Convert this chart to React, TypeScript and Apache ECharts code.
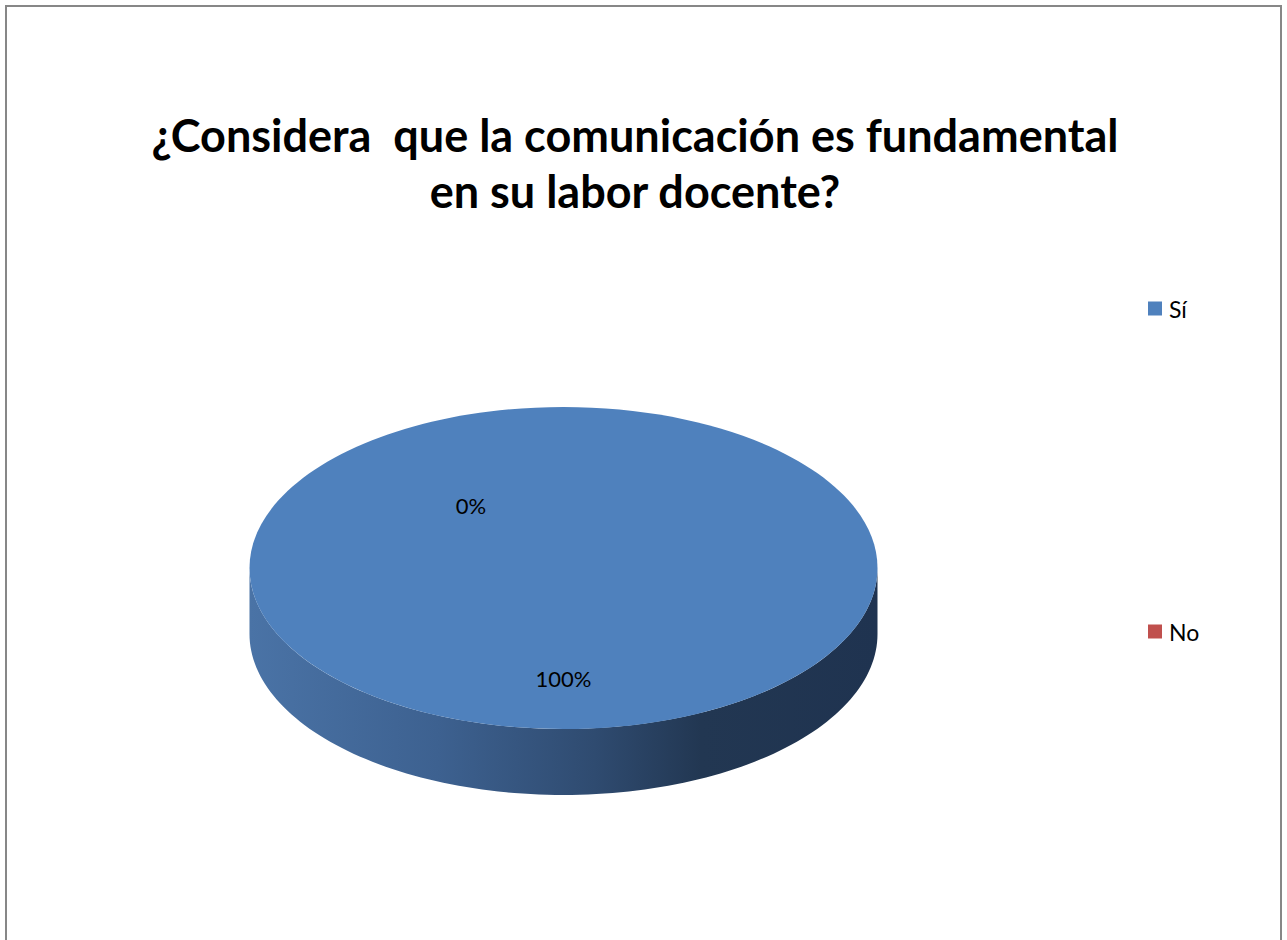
import React, { useEffect, useRef } from "react";
import * as echarts from "echarts";

const categories = ["Sí", "No"];
const values = [100, 0];
const percentLabels = ["100%", "0%"];
const palette = ["#4f81bd", "#c0504d"];
const titleText = "¿Considera  que la comunicación es fundamental\nen su labor docente?";

const FONT = "Lato, 'Open Sans', sans-serif";

// layout of the 3D pie
const CX = 563.5;
const CY = 568;
const RX = 314;
const RY = 161;
const DEPTH = 66;

const pt = (theta: number, dy = 0) => [CX + RX * Math.sin(theta), CY - RY * Math.cos(theta) + dy];

function arcPoints(a: number, b: number, dy = 0) {
  const pts: number[][] = [];
  const n = Math.max(2, Math.ceil(((b - a) / (2 * Math.PI)) * 240));
  for (let i = 0; i <= n; i++) pts.push(pt(a + ((b - a) * i) / n, dy));
  return pts;
}

export default function App() {
  const ref = useRef<HTMLDivElement>(null);
  useEffect(() => {
    if (!ref.current) return;
    const chart = echarts.init(ref.current, null, { renderer: "svg" });
    const total = values.reduce((s, v) => s + v, 0);

    const makeRender = (idx: number) => (params: any, api: any) => {
      const before = values.slice(0, idx).reduce((s, v) => s + v, 0);
      const v = api.value(0);
      const start = (before / total) * 2 * Math.PI;
      const end = ((before + v) / total) * 2 * Math.PI;
      const children: any[] = [];
      if (v > 0) {
        const a = Math.max(start, Math.PI / 2);
        const b = Math.min(end, (3 * Math.PI) / 2);
        if (a < b) {
          const topArc = arcPoints(a, b);
          const botArc = arcPoints(a, b, DEPTH).reverse();
          children.push({
            type: "polygon",
            shape: { points: topArc.concat(botArc) },
            style: {
              fill: new echarts.graphic.LinearGradient(0, 0, 1, 0, [
                { offset: 0, color: "#4a73a6" },
                { offset: 0.3, color: "#3d6190" },
                { offset: 0.55, color: "#2f4b70" },
                { offset: 0.72, color: "#223752" },
                { offset: 1, color: "#1f3350" },
              ]),
            },
          });
        }
        if (end - start >= 2 * Math.PI - 1e-6) {
          children.push({
            type: "ellipse",
            shape: { cx: CX, cy: CY, rx: RX, ry: RY },
            style: { fill: palette[idx] },
          });
        } else {
          children.push({
            type: "polygon",
            shape: { points: [[CX, CY]].concat(arcPoints(start, end)) },
            style: { fill: palette[idx] },
          });
        }
      }
      // label position
      let lx: number, ly: number;
      if (v > 0) {
        const mid = (start + end) / 2;
        lx = CX + 0.685 * RX * Math.sin(mid);
        ly = CY - 0.685 * RY * Math.cos(mid);
      } else {
        lx = CX - 0.295 * RX;
        ly = CY - 0.39 * RY;
      }
      children.push({
        type: "text",
        z2: 10,
        style: {
          text: percentLabels[idx],
          x: lx,
          y: ly,
          fill: "#000000",
          fontSize: 22,
          fontFamily: FONT,
          align: "center",
          verticalAlign: "middle",
        },
      });
      return { type: "group", children };
    };

    chart.setOption({
      animation: false,
      color: palette,
      title: {
        text: titleText,
        left: 635,
        top: 107,
        padding: 0,
        textAlign: "center",
        textStyle: {
          fontSize: 45,
          fontWeight: "bold",
          fontFamily: FONT,
          color: "#000000",
          lineHeight: 56,
        },
      },
      legend: {
        orient: "vertical",
        left: 1148,
        top: 297,
        padding: 0,
        icon: "rect",
        itemWidth: 14,
        itemHeight: 14,
        itemGap: 300,
        selectedMode: false,
        data: categories,
        textStyle: { fontSize: 23, fontFamily: FONT, color: "#000000", padding: [0, 0, 0, 2] },
      },
      graphic: [
        {
          type: "rect",
          shape: { x: 6, y: 6, width: 1275, height: 1000 },
          style: { fill: "none", stroke: "#878787", lineWidth: 2 },
          silent: true,
        },
      ],
      series: categories.map((name, idx) => ({
        type: "custom",
        name,
        coordinateSystem: "none",
        silent: true,
        data: [[values[idx]]],
        renderItem: makeRender(idx),
      })),
    });
    return () => chart.dispose();
  }, []);
  return (
    <div
      ref={ref}
      style={{ position: "absolute", left: 0, top: 0, width: 1287, height: 940, background: "#ffffff" }}
    />
  );
}
